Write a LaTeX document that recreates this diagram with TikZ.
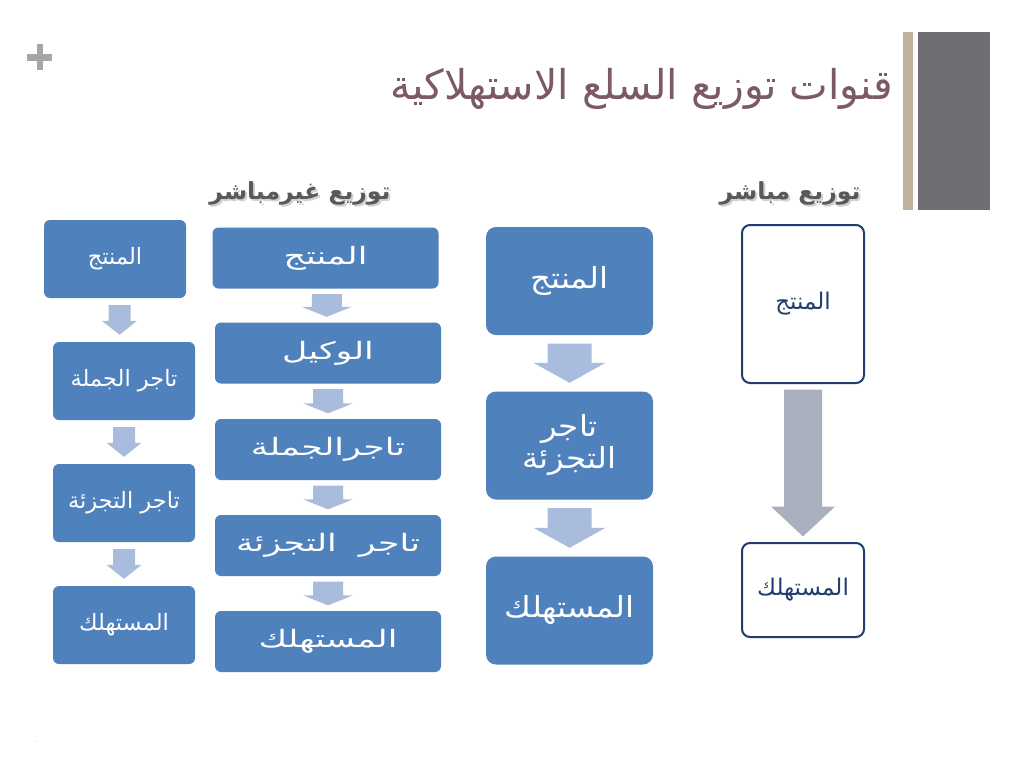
\documentclass[tikz,border=0pt]{standalone}
\usepackage{fontspec}
\usetikzlibrary{calc}
\TeXXeTstate=1
\newfontfamily\arabicfont[Script=Arabic]{DejaVu Sans}
\newfontfamily\arabicwide[Script=Arabic,FakeStretch=1.45]{DejaVu Sans}
\newfontfamily\arabicmid[Script=Arabic,FakeStretch=1.12]{DejaVu Sans}
\newcommand{\artx}[1]{\beginR #1\endR}
\definecolor{boxblue}{HTML}{4F81BD}
\definecolor{lightarrow}{HTML}{A9BCDD}
\definecolor{grayarrow}{HTML}{AAB0BD}
\definecolor{darkframe}{HTML}{1F3D6E}
\definecolor{titlecol}{HTML}{7B5967}
\definecolor{headcol}{HTML}{595959}
\definecolor{barTan}{HTML}{BFB19A}
\definecolor{barGray}{HTML}{6E6E73}
\newcommand{\barrow}[7]{%
  \coordinate (m) at ($(#1.south)!0.5!(#2.north)$);
  \coordinate (atop) at ($(m |- #1.south)+(0,#3)$);
  \coordinate (atip) at ($(m |- #2.north)+(0,-#3)$);
  \fill[#7] ($(atop)+(-#4,0)$) -- ($(atop)+(#4,0)$) -- ($(atip)+(#4,-#6)$) -- ($(atip)+(#5,-#6)$) -- (atip) -- ($(atip)+(-#5,-#6)$) -- ($(atip)+(-#4,-#6)$) -- cycle;
}
\begin{document}
\begin{tikzpicture}[x=1pt,y=-1pt,
  bluebox/.style={fill=boxblue, text=white, rounded corners=6pt, inner sep=0pt, align=center},
  smallbox/.style={bluebox, minimum width=142pt, minimum height=78pt, font={\arabicfont\fontsize{22.5}{26}\selectfont}},
  midbox/.style={bluebox, minimum width=226pt, minimum height=61pt, font={\arabicwide\fontsize{24}{28}\selectfont}},
  bigbox/.style={bluebox, rounded corners=10pt, minimum width=167pt, minimum height=108pt, font={\arabicmid\fontsize{29}{32}\selectfont}},
  whitebox/.style={draw=darkframe, line width=2pt, fill=white, text=darkframe, rounded corners=8pt, minimum width=122pt, inner sep=0pt, font={\arabicfont\fontsize{23}{27}\selectfont}},
  header/.style={text=headcol, font={\arabicfont\bfseries\fontsize{23.5}{28}\selectfont}},
  headshadow/.style={text=black!18, font={\arabicfont\bfseries\fontsize{23.5}{28}\selectfont}}
]
\useasboundingbox (0,0) rectangle (1024,768);
\fill[white] (0,0) rectangle (1024,768);
% decorations
\fill[barTan] (903,32) rectangle (913,210);
\fill[barGray] (918,32) rectangle (990,210);
\fill[black!35] (27,54) rectangle (52,60.5);
\fill[black!35] (36.5,44) rectangle (43,70);
\node[text=black!50, font=\fontsize{8}{8}\selectfont] (dot) at (35,742) {.};
% title
\node[anchor=east, inner sep=0pt, text=titlecol, font={\arabicfont\fontsize{41}{48}\selectfont}] (title) at (893,89) {\artx{قنوات توزيع السلع الاستهلاكية}};
% headers
\node[headshadow] (h1s) at (302,195) {\artx{توزيع غيرمباشر}};
\node[header] (h1) at (300,193) {\artx{توزيع غيرمباشر}};
\node[headshadow] (h2s) at (792,195) {\artx{توزيع مباشر}};
\node[header] (h2) at (790,193) {\artx{توزيع مباشر}};
% column 1
\node[smallbox] (a1) at (115,259) {\artx{المنتج}};
\node[smallbox] (a2) at (124,381) {\artx{تاجر الجملة}};
\node[smallbox] (a3) at (124,503) {\artx{تاجر التجزئة}};
\node[smallbox] (a4) at (124,625) {\artx{المستهلك}};
% column 2
\node[midbox] (b1) at (325.5,258) {\artx{المنتج}};
\node[midbox] (b2) at (328,353) {\artx{الوكيل}};
\node[midbox] (b3) at (328,449.5) {\artx{تاجرالجملة}};
\node[midbox] (b4) at (328,545.5) {\artx{تاجر\ \ التجزئة}};
\node[midbox] (b5) at (328,641.5) {\artx{المستهلك}};
% column 3
\node[bigbox] (c1) at (569.5,281) {\artx{المنتج}};
\node[bigbox] (c2) at (569.5,445.5) {\artx{تاجر}\\\artx{التجزئة}};
\node[bigbox] (c3) at (569.5,610.5) {\artx{المستهلك}};
% column 4
\node[whitebox, minimum height=158pt] (d1) at (803,304) {\artx{المنتج}};
\node[whitebox, minimum height=94pt] (d2) at (803,590) {\artx{المستهلك}};
% arrows
\barrow{a1}{a2}{7}{11}{17.5}{14}{lightarrow}
\barrow{a2}{a3}{7}{11}{17.5}{14}{lightarrow}
\barrow{a3}{a4}{7}{11}{17.5}{14}{lightarrow}
\barrow{b1}{b2}{5.5}{15}{25}{10}{lightarrow}
\barrow{b2}{b3}{5.5}{15}{25}{10}{lightarrow}
\barrow{b3}{b4}{5.5}{15}{25}{10}{lightarrow}
\barrow{b4}{b5}{5.5}{15}{25}{10}{lightarrow}
\barrow{c1}{c2}{8.5}{22}{36}{20}{lightarrow}
\barrow{c2}{c3}{8.5}{22}{36}{20}{lightarrow}
\barrow{d1}{d2}{5.5}{19}{32}{30}{grayarrow}
\end{tikzpicture}
\end{document}
